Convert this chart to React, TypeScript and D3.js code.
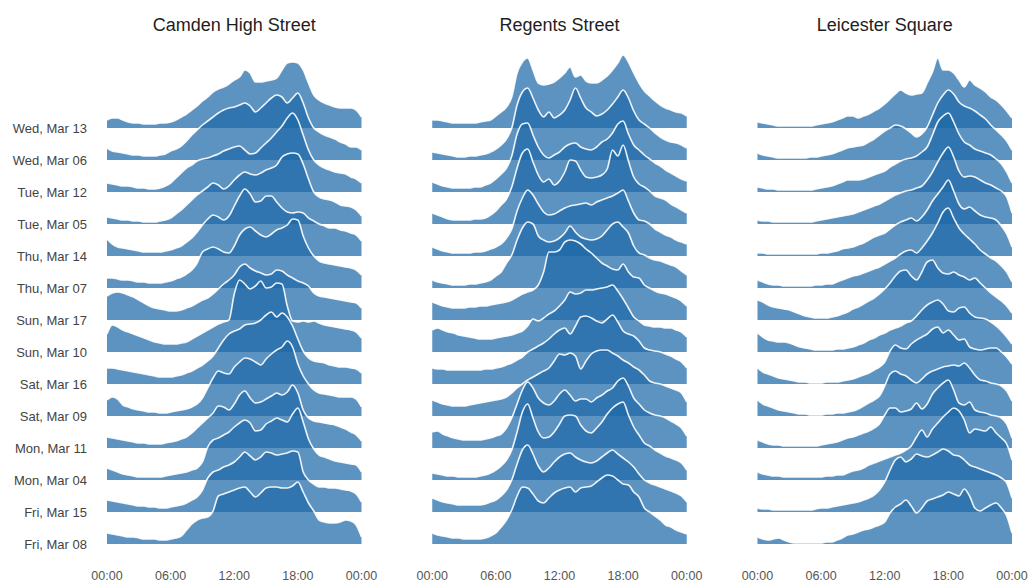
import React from "react";
import * as d3 from "d3";

// Hourly footfall ridgelines for three London shopping streets.
const STATIONS = ["Camden High Street", "Regents Street", "Leicester Square"];

const DAYS = [
  "Wed, Mar 13", "Wed, Mar 06", "Tue, Mar 12", "Tue, Mar 05", "Thu, Mar 14",
  "Thu, Mar 07", "Sun, Mar 17", "Sun, Mar 10", "Sat, Mar 16", "Sat, Mar 09",
  "Mon, Mar 11", "Mon, Mar 04", "Fri, Mar 15", "Fri, Mar 08",
];

// Half-hour sample times, 00:00 through the following 00:00.
const HOURS = d3.range(0, 24.5, 0.5);
const TICK_HOURS = [0, 6, 12, 18, 24];
const TICK_LABELS = ["00:00", "06:00", "12:00", "18:00", "00:00"];

// Relative footfall per half hour, one row per day (same order as DAYS).
const camdenHighStreet = [
  [8,10,10,8,6,5,5,4,4,4,5,5,6,8,11,14,18,22,27,31,36,39,41,44,48,51,58,55,46,46,47,48,50,58,65,66,65,58,45,33,28,25,23,21,20,20,20,18,11],
  [12,9,8,7,6,5,5,4,4,4,5,6,9,11,14,19,25,30,35,39,43,47,50,52,53,55,57,54,48,52,57,62,65,63,57,62,67,57,42,32,28,25,23,21,18,16,13,13,10],
  [9,8,7,6,6,5,4,4,3,3,4,6,9,14,19,24,27,31,33,34,36,38,41,43,45,46,42,38,39,44,49,54,60,66,74,79,72,57,42,32,27,24,22,20,19,18,15,13,9],
  [7,6,5,4,4,3,3,2,2,2,3,4,6,10,14,19,24,29,33,37,41,39,35,38,44,49,52,50,49,51,54,56,59,67,70,71,70,60,45,32,27,25,24,22,19,18,17,14,8],
  [17,12,9,8,7,6,5,4,4,4,4,5,6,8,10,14,18,24,31,37,41,39,36,40,50,60,67,62,54,55,60,60,54,48,44,43,44,43,38,35,32,30,28,28,26,25,23,21,15],
  [10,10,9,8,8,7,6,6,5,5,5,6,7,9,11,14,18,25,36,39,41,39,36,35,42,53,59,61,57,53,51,54,58,60,63,69,68,52,40,32,27,25,24,23,22,21,20,18,13],
  [24,27,28,27,25,23,20,17,14,12,11,10,9,9,10,12,14,17,20,22,26,31,36,40,45,53,56,52,49,47,45,46,50,49,45,42,39,37,34,27,24,23,22,21,20,19,18,17,12],
  [18,27,25,22,20,18,16,14,12,10,9,8,8,8,9,10,13,16,19,22,25,28,30,32,58,72,68,63,66,71,64,65,69,68,46,31,30,31,30,31,29,27,26,25,24,23,22,20,14],
  [16,16,15,14,13,12,11,10,9,8,7,7,7,8,9,11,13,16,19,23,28,36,44,50,53,55,59,60,61,64,69,72,67,71,67,58,45,33,26,23,22,21,19,18,17,17,16,15,11],
  [16,19,17,11,9,7,6,5,4,4,3,3,4,5,6,7,9,12,18,28,38,45,43,42,49,54,58,57,54,51,57,62,66,69,75,69,52,40,32,26,23,22,21,20,19,19,19,17,9],
  [11,10,9,8,7,6,5,5,4,4,4,5,6,7,9,11,15,20,25,30,35,42,41,38,44,53,57,50,45,46,49,52,55,53,56,63,55,38,30,27,26,25,24,23,21,19,16,13,7],
  [12,10,8,6,5,4,3,3,3,3,3,4,5,6,7,8,10,12,18,33,40,42,45,48,53,57,60,57,49,50,56,59,62,60,58,66,72,58,41,31,25,23,21,19,18,17,16,15,8],
  [12,11,10,9,8,7,6,6,5,5,4,4,5,6,7,9,12,15,22,34,40,42,45,47,50,55,60,56,52,55,60,59,57,58,59,61,60,40,32,28,25,25,24,24,23,22,21,18,10],
  [11,10,9,8,7,7,6,5,5,5,4,4,5,6,8,14,20,24,26,27,33,48,50,52,54,56,57,52,47,51,56,57,57,56,56,58,62,52,41,33,24,22,21,21,22,24,23,19,7],
];

const regentsStreet = [
  [8,8,7,6,5,5,5,5,5,6,7,8,12,16,21,31,55,66,70,58,45,43,44,46,50,55,61,51,53,47,45,45,48,52,58,65,73,66,55,45,37,32,27,23,20,18,16,15,12],
  [8,7,6,5,4,3,3,4,4,5,6,8,11,15,21,32,55,68,72,62,50,43,48,42,45,50,60,72,62,52,48,44,46,50,56,63,70,62,49,40,36,32,27,23,20,18,17,15,12],
  [10,8,6,5,4,4,4,4,5,5,7,9,13,18,24,36,58,68,69,57,45,37,34,37,40,45,48,49,45,43,42,45,50,53,59,68,71,58,47,42,37,33,29,26,22,19,16,13,11],
  [11,9,7,5,4,4,4,4,5,5,6,9,13,19,25,37,56,71,75,62,49,42,45,39,43,52,64,63,54,47,46,47,49,55,74,68,79,63,47,40,37,33,28,26,24,20,17,14,11],
  [9,7,5,4,3,3,3,3,4,4,5,7,9,12,18,27,45,58,66,61,52,44,41,42,45,48,50,51,52,53,51,54,56,58,60,63,66,55,43,36,35,32,27,24,21,19,16,14,12],
  [8,6,5,4,3,3,3,4,4,5,6,8,12,16,25,33,48,60,66,64,52,48,46,47,50,55,62,56,51,49,48,49,52,58,64,66,61,55,42,35,33,30,28,27,25,23,21,17,13],
  [18,16,14,13,12,12,12,13,13,14,14,15,16,17,18,20,23,26,28,30,35,48,68,68,70,78,80,79,76,71,67,62,57,54,51,50,56,48,43,42,35,32,29,27,26,24,22,19,14],
  [22,24,22,20,19,17,16,15,14,13,13,13,14,15,16,17,19,21,26,33,31,34,38,41,46,52,60,58,59,62,62,63,64,65,67,61,53,44,35,31,27,26,25,25,24,24,22,20,15],
  [16,15,15,14,14,14,14,14,14,14,15,15,16,17,19,21,24,27,32,35,38,41,45,50,54,56,50,58,67,68,66,63,61,65,69,62,53,50,48,43,36,34,33,32,30,28,25,22,16],
  [16,14,12,11,10,10,10,11,12,13,14,15,16,17,19,23,28,32,36,39,42,45,48,55,62,61,63,60,47,55,62,65,66,66,63,60,56,53,49,46,41,35,33,32,30,28,26,23,14],
  [16,17,14,12,10,9,8,8,8,8,9,10,12,14,20,30,44,58,66,60,50,45,43,47,54,58,53,47,49,49,46,50,53,57,60,67,70,62,50,44,38,35,33,32,30,27,24,20,12],
  [7,6,5,4,4,3,3,3,3,4,5,7,10,14,20,30,48,68,76,62,48,42,43,48,56,64,65,64,55,49,47,52,58,66,72,76,78,65,53,45,37,34,30,27,24,22,20,17,10],
  [14,12,10,9,8,7,7,7,7,7,8,10,12,16,22,32,48,62,67,58,46,40,44,50,55,58,59,55,52,50,49,51,55,59,62,58,54,50,45,38,32,29,27,25,23,21,19,16,10],
  [11,9,8,7,6,6,5,5,5,5,6,8,11,17,24,34,48,57,56,50,43,41,46,51,54,56,57,52,56,57,58,62,66,69,68,64,60,59,52,47,36,32,28,24,19,17,14,12,10],
];

const leicesterSquare = [
  [6,5,4,3,2,2,2,2,2,2,2,3,4,5,6,8,10,12,12,10,12,14,17,20,24,29,34,38,35,33,34,35,45,56,70,58,58,55,48,41,48,43,40,36,31,28,23,17,10],
  [7,5,4,3,2,2,2,2,2,2,3,3,4,5,6,8,10,12,13,14,15,18,21,25,29,32,35,34,31,27,23,26,33,45,57,65,70,66,58,54,52,49,45,41,35,30,25,19,10],
  [5,4,3,3,2,2,2,2,2,2,2,3,4,5,6,8,10,12,12,12,13,15,17,19,21,25,28,31,33,34,36,40,45,57,70,76,79,70,58,50,47,43,41,39,37,33,28,20,9],
  [4,3,3,2,2,2,2,2,2,2,2,3,4,5,6,7,8,9,10,12,14,16,18,20,23,26,29,31,33,34,36,38,44,52,62,71,77,67,53,47,48,47,44,41,39,36,33,27,11],
  [3,3,2,2,2,2,2,2,2,2,2,2,3,3,4,5,7,8,9,11,13,16,19,21,23,27,31,34,36,38,35,39,46,55,62,69,76,65,52,47,49,45,41,39,38,36,30,22,9],
  [8,6,4,3,3,2,2,2,2,2,2,3,3,4,4,6,8,10,12,13,15,17,19,21,24,27,30,34,37,38,35,40,47,55,65,76,80,70,60,54,49,44,38,34,30,27,22,16,6],
  [20,18,15,13,12,11,10,8,6,4,3,2,2,2,3,4,6,8,11,13,16,19,22,26,31,37,44,49,50,44,40,48,58,60,52,47,46,48,45,43,40,42,37,32,27,23,19,14,7],
  [19,15,12,11,10,10,9,7,5,4,3,2,2,2,2,3,3,4,5,7,9,12,14,17,19,22,24,26,29,31,36,42,47,50,52,48,41,40,44,45,39,35,34,33,30,26,21,15,8],
  [16,12,10,8,6,5,4,3,2,2,1,1,1,2,2,2,3,4,5,7,9,11,14,17,22,33,39,36,35,40,44,47,50,55,57,51,54,49,44,45,37,35,34,35,36,36,32,27,20],
  [16,12,10,8,6,5,4,3,2,2,1,1,1,2,2,3,3,4,5,7,10,13,16,20,30,42,45,42,40,36,33,37,42,45,47,49,50,51,50,53,48,41,36,35,33,32,30,25,15],
  [8,6,4,3,3,2,2,2,2,2,2,2,3,4,5,6,8,10,11,13,15,17,20,24,33,40,40,36,37,39,45,39,44,54,60,65,68,58,45,43,46,38,36,35,33,32,30,24,10],
  [8,6,5,4,4,3,3,3,3,3,3,3,3,4,4,5,5,7,9,10,12,15,17,19,21,23,25,27,30,34,43,50,43,51,57,63,68,72,69,60,47,51,50,49,53,47,42,36,20],
  [4,3,3,2,2,2,2,2,2,2,2,3,4,4,5,6,7,8,9,10,12,14,17,22,30,42,52,55,50,53,58,56,55,57,60,63,61,57,56,52,47,45,43,41,39,37,34,29,14],
  [7,5,4,5,6,4,2,1,1,1,1,1,1,2,2,4,6,9,10,12,14,15,17,19,22,31,37,40,44,38,31,36,43,45,47,49,52,50,48,55,48,36,33,36,39,41,36,28,11],
];

const SERIES = [camdenHighStreet, regentsStreet, leicesterSquare];

const FONT = "'Liberation Sans', Arial, Helvetica, sans-serif";
const FILL = "#1f6aa8";

export default function App() {
  const width = 1028;
  const height = 582;

  const panel = d3
    .scaleBand<string>()
    .domain(STATIONS)
    .range([107, 1012])
    .paddingInner(0.2175);
  const rowY = d3.scalePoint<string>().domain(DAYS).range([128, 544]);
  // Ridge height in pixels for a footfall value.
  const ridge = d3.scaleLinear().domain([0, 100]).range([0, 100]);

  return (
    <svg
      width={width}
      height={height}
      viewBox={`0 0 ${width} ${height}`}
      style={{ position: "absolute", left: 0, top: 0, background: "#fff" }}
      fontFamily={FONT}
    >
      {STATIONS.map((station, si) => {
        const x0 = panel(station) as number;
        const x = d3
          .scaleLinear()
          .domain([0, 24])
          .range([x0, x0 + panel.bandwidth()]);
        return (
          <g key={station}>
            <text
              x={x0 + panel.bandwidth() / 2}
              y={31}
              textAnchor="middle"
              fontSize={18}
              fill="#1e1e1e"
            >
              {station}
            </text>
            {DAYS.map((day, di) => {
              const base = rowY(day) as number;
              const values = SERIES[si][di];
              const area = d3
                .area<number>()
                .x((_, j) => x(HOURS[j]))
                .y0(base)
                .y1((v) => base - ridge(v))
                .curve(d3.curveMonotoneX);
              const line = d3
                .line<number>()
                .x((_, j) => x(HOURS[j]))
                .y((v) => base - ridge(v))
                .curve(d3.curveMonotoneX);
              return (
                <g key={day}>
                  <path d={area(values) || ""} fill={FILL} fillOpacity={0.72} />
                  <path
                    d={line(values) || ""}
                    fill="none"
                    stroke="#ffffff"
                    strokeOpacity={0.9}
                    strokeWidth={1.6}
                  />
                </g>
              );
            })}
            {TICK_HOURS.map((h, ti) => (
              <text
                key={ti}
                x={x(h)}
                y={580}
                textAnchor="middle"
                fontSize={12.5}
                fill="#555"
              >
                {TICK_LABELS[ti]}
              </text>
            ))}
          </g>
        );
      })}
      {DAYS.map((day) => (
        <text
          key={day}
          x={87}
          y={(rowY(day) as number) + 4.5}
          textAnchor="end"
          fontSize={13}
          fill="#444"
        >
          {day}
        </text>
      ))}
    </svg>
  );
}
